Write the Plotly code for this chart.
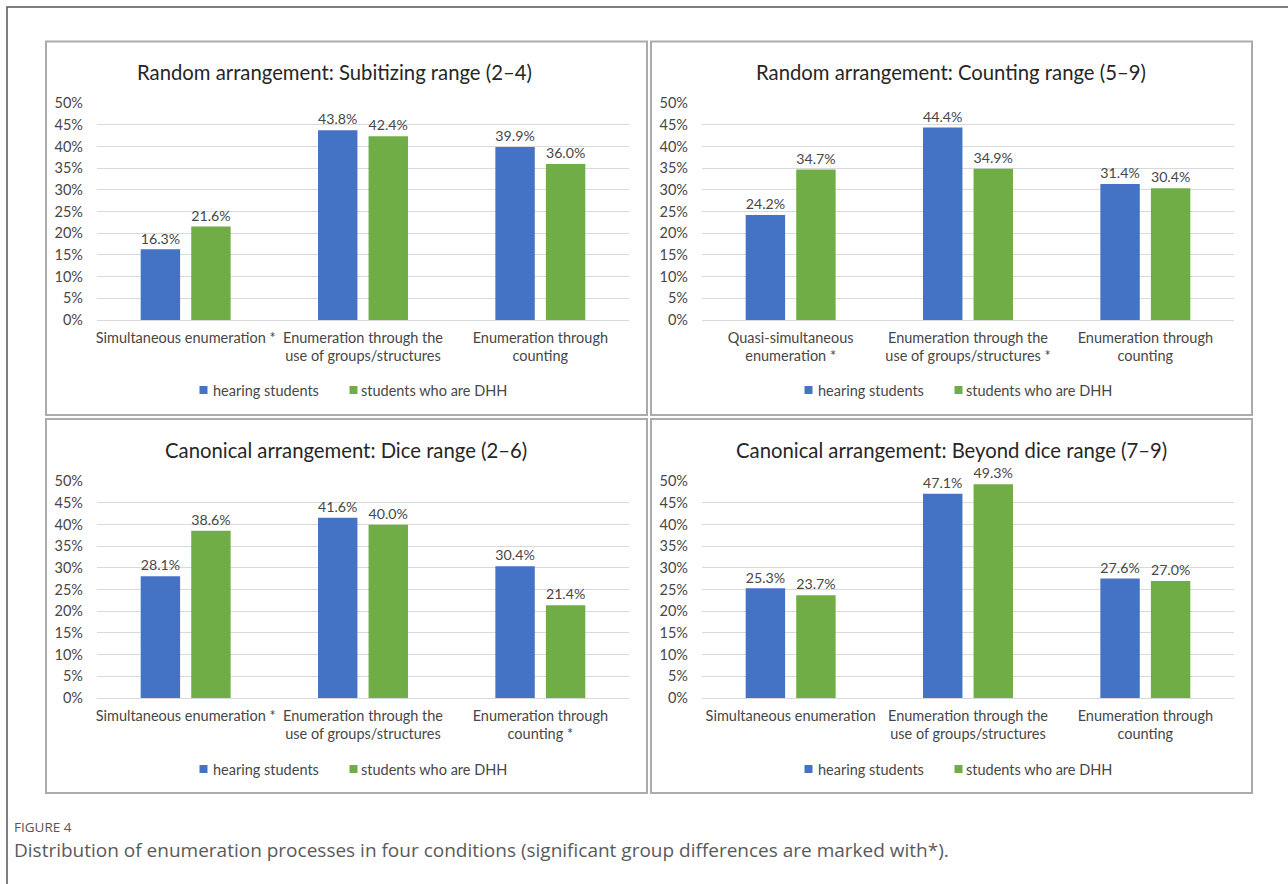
import plotly.graph_objects as go

W, H = 1288, 884

panel_titles = [
    "Random arrangement: Subitizing range (2–4)",
    "Random arrangement: Counting range (5–9)",
    "Canonical arrangement: Dice range (2–6)",
    "Canonical arrangement: Beyond dice range (7–9)",
]
categories = [
    ["Simultaneous enumeration *", "Enumeration through the<br>use of groups/structures", "Enumeration through<br>counting"],
    ["Quasi-simultaneous<br>enumeration *", "Enumeration through the<br>use of groups/structures *", "Enumeration through<br>counting"],
    ["Simultaneous enumeration *", "Enumeration through the<br>use of groups/structures", "Enumeration through<br>counting *"],
    ["Simultaneous enumeration", "Enumeration through the<br>use of groups/structures", "Enumeration through<br>counting"],
]
hearing = [
    [16.3, 43.8, 39.9],
    [24.2, 44.4, 31.4],
    [28.1, 41.6, 30.4],
    [25.3, 47.1, 27.6],
]
dhh = [
    [21.6, 42.4, 36.0],
    [34.7, 34.9, 30.4],
    [38.6, 40.0, 21.4],
    [23.7, 49.3, 27.0],
]
series_names = ["hearing students", "students who are DHH"]
series_colors = ["#4472C4", "#70AD47"]
y_ticks = list(range(0, 51, 5))
y_tick_labels = [f"{v}%" for v in y_ticks]

FONT = "Lato, sans-serif"
TXT = "#474747"

def px(x):
    return x / W

def py(y):
    return 1 - y / H

panels = [  # (left, top, right, bottom) of panel frame, pixels
    (46, 41.5, 647, 415),
    (651, 41.5, 1252, 415),
    (46, 419, 647, 793),
    (651, 419, 1252, 793),
]
plot_x = [(97, 629), (702, 1234), (97, 629), (702, 1234)]
plot_y = [(103.3, 320), (103.3, 320), (481.3, 698), (481.3, 698)]
title_y = [72, 72, 450, 450]
title_x = [334, 951, 346, 952]
legend_y = [390, 390, 769, 769]

fig = go.Figure()
shapes = []
annotations = []

for i in range(4):
    ax = "" if i == 0 else str(i + 1)
    for vals, name, col in zip([hearing[i], dhh[i]], series_names, series_colors):
        fig.add_trace(go.Bar(
            x=categories[i], y=vals, name=name,
            marker=dict(color=col, line=dict(width=0)),
            texttemplate="%{y:.1f}%", textposition="outside",
            textfont=dict(family=FONT, size=15, color=TXT),
            cliponaxis=False,
            xaxis="x" + ax, yaxis="y" + ax,
            showlegend=False,
            hoverinfo="skip",
        ))
    x0, x1 = plot_x[i]
    y0, y1 = plot_y[i]
    fig.update_layout(**{
        "xaxis" + ax: dict(
            domain=[px(x0), px(x1)], anchor="y" + ax,
            showgrid=False, showline=False, zeroline=False, ticks="",
            tickangle=0, automargin=False,
            tickfont=dict(family=FONT, size=14.5, color=TXT),
            ticklabelstandoff=7,
        ),
        "yaxis" + ax: dict(
            domain=[py(y1), py(y0)], anchor="x" + ax,
            range=[0, 50], tickmode="array", tickvals=y_ticks, ticktext=y_tick_labels,
            showgrid=True, gridcolor="#D9D9D9", gridwidth=1,
            zeroline=True, zerolinecolor="#D9D9D9", zerolinewidth=1,
            showline=False, ticks="", automargin=False,
            tickfont=dict(family=FONT, size=14.5, color=TXT),
            ticklabelstandoff=13,
        ),
    })
    L, T, R, B = panels[i]
    shapes.append(dict(type="rect", xref="paper", yref="paper",
                       x0=px(L), x1=px(R), y0=py(B), y1=py(T),
                       line=dict(color="#ABABAB", width=2), layer="below"))
    annotations.append(dict(text=panel_titles[i], xref="paper", yref="paper",
                            x=px(title_x[i]), y=py(title_y[i]),
                            xanchor="center", yanchor="middle", showarrow=False,
                            font=dict(family=FONT, size=20.3, color="#262626")))
    # legend (manual): square + label for each series
    cx = (L + R) / 2
    ly = legend_y[i]
    for sq_x, tx_x, name, col in [(cx - 147, cx - 136, series_names[0], series_colors[0]),
                                  (cx + 3, cx + 12, series_names[1], series_colors[1])]:
        shapes.append(dict(type="rect", xref="paper", yref="paper",
                           x0=px(sq_x), x1=px(sq_x + 8), y0=py(ly + 4), y1=py(ly - 4),
                           fillcolor=col, line=dict(width=0)))
        annotations.append(dict(text=name, xref="paper", yref="paper",
                                x=px(tx_x), y=py(ly), xanchor="left", yanchor="middle",
                                showarrow=False,
                                font=dict(family=FONT, size=14.5, color=TXT)))

# outer frame (left and top edges)
shapes.append(dict(type="path", xref="paper", yref="paper",
                   path=f"M {px(7)} {py(884)} L {px(7)} {py(7)} L {px(1288)} {py(7)}",
                   line=dict(color="#555555", width=1.5)))

annotations.append(dict(text="FIGURE 4", xref="paper", yref="paper",
                        x=px(12), y=py(827), xanchor="left", yanchor="middle",
                        showarrow=False,
                        font=dict(family="Open Sans, sans-serif", size=13.5, color="#555555")))
annotations.append(dict(text="Distribution of enumeration processes in four conditions (significant group differences are marked with*).",
                        xref="paper", yref="paper",
                        x=px(12), y=py(850), xanchor="left", yanchor="middle",
                        showarrow=False,
                        font=dict(family="Open Sans, sans-serif", size=19, color="#5A5A5A")))

fig.update_layout(
    width=W, height=H, margin=dict(l=0, r=0, t=0, b=0, autoexpand=False),
    paper_bgcolor="white", plot_bgcolor="white",
    barmode="group", bargap=0.43, bargroupgap=0.22,
    shapes=shapes, annotations=annotations,
    font=dict(family=FONT), showlegend=False,
)

fig.write_html("out.html")
